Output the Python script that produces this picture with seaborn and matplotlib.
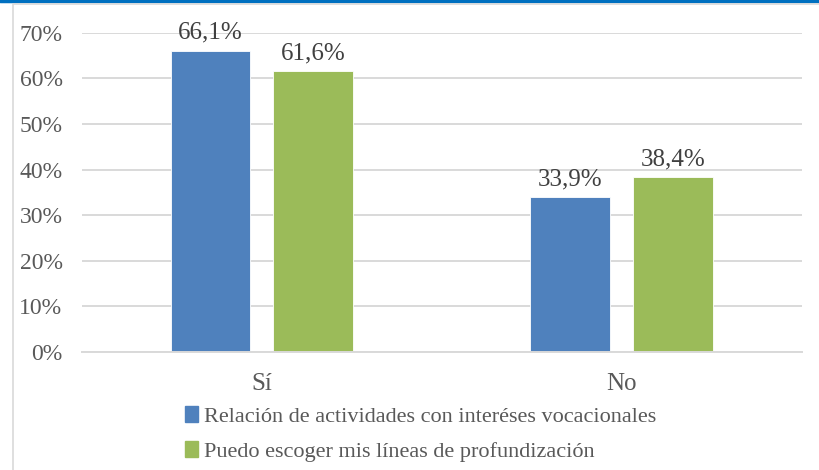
import matplotlib
matplotlib.use('Agg')
import matplotlib.pyplot as plt
import seaborn as sns
import pandas as pd
from matplotlib.patches import Rectangle
from matplotlib.lines import Line2D

# --- DATA ---
categories = ["Sí", "No"]
series_names = ["Relación de actividades con interéses vocacionales",
                "Puedo escoger mis líneas de profundización"]
relacion_vals = [66.1, 33.9]
escoger_vals = [61.6, 38.4]
y_ticks = [0, 10, 20, 30, 40, 50, 60, 70]

df = pd.DataFrame({
    "cat": categories * 2,
    "serie": [series_names[0]] * 2 + [series_names[1]] * 2,
    "valor": relacion_vals + escoger_vals,
})

sns.set_theme(style="white")
plt.rcParams['font.family'] = ['Liberation Serif', 'DejaVu Serif']

fig = plt.figure(figsize=(8.19, 4.70), dpi=100)
ax = fig.add_axes([0.1001, 0.251, 0.879, 0.679])

palette = {series_names[0]: "#4F81BD", series_names[1]: "#9BBB59"}
sns.barplot(data=df, x="cat", y="valor", hue="serie", palette=palette,
            width=0.572, gap=0.224, saturation=1, ax=ax, legend=False,
            edgecolor="white", linewidth=0.6)

for cont in ax.containers:
    ax.bar_label(cont, labels=[f"{v:.1f}%".replace(".", ",") for v in cont.datavalues],
                 padding=5, fontsize=18, color="#404040")

ax.set_ylim(0, 70)
ax.set_xlim(-0.5, 1.5)
ax.set_yticks(y_ticks)
ax.set_yticklabels([f"{t}%" for t in y_ticks], fontsize=17, color="#595959")
ax.tick_params(axis='x', labelsize=18, labelcolor="#595959", pad=15, length=0)
ax.tick_params(axis='y', pad=14, length=0)
ax.set_xlabel("")
ax.set_ylabel("")
ax.yaxis.grid(True, color="#D9D9D9", linewidth=1.4)
ax.set_axisbelow(True)
for s in ["top", "right", "left"]:
    ax.spines[s].set_visible(False)
ax.spines["bottom"].set_color("#D9D9D9")
ax.spines["bottom"].set_linewidth(1.4)

# legend
handles = [Rectangle((0, 0), 1, 1, color=palette[n]) for n in series_names]
fig.legend(handles, series_names, loc="center", bbox_to_anchor=(0.514, 0.077),
           ncol=1, frameon=False, fontsize=16, handlelength=0.55, handleheight=0.75,
           handletextpad=0.3, labelspacing=0.65, labelcolor="#595959")

# chart frame
fig.add_artist(Line2D([0, 1], [0.997, 0.997], transform=fig.transFigure,
                      color="#0070C0", linewidth=2.5))
fig.add_artist(Line2D([13 / 819, 13 / 819, 1], [0, 1 - 4 / 470, 1 - 4 / 470],
                      transform=fig.transFigure, color="#D9D9D9", linewidth=1.2))

fig.savefig("out.png", dpi=100)
